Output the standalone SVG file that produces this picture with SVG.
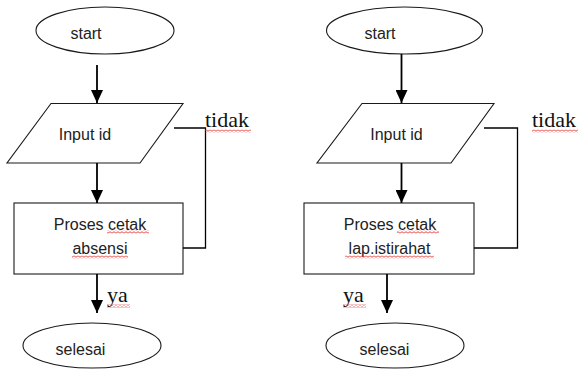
<svg xmlns="http://www.w3.org/2000/svg" width="580" height="369" viewBox="0 0 580 369">
<style>
.shape{fill:#fff;stroke:#1a1a1a;stroke-width:1.1}
.lbl{font-family:"Liberation Sans",Arial,sans-serif;font-size:16px;fill:#222;text-anchor:middle}
.ser{font-family:"Liberation Serif","Times New Roman",serif;font-size:22px;fill:#111}
.ln{fill:none;stroke:#000;stroke-width:1.3}
.ar{fill:none;stroke:#000;stroke-width:1.8;marker-end:url(#ah)}
.sq{fill:url(#sq);stroke:none}
</style>
<defs>
<marker id="ah" viewBox="0 0 13 12" markerWidth="13" markerHeight="12" refX="13" refY="6" orient="auto" markerUnits="userSpaceOnUse">
<path d="M0,0 L13,6 L0,12 Z" fill="#000"/>
</marker>
<pattern id="sq" width="4" height="3" patternUnits="userSpaceOnUse">
<path d="M0,2.3 L2,0.7 L4,2.3" fill="none" stroke="#e03030" stroke-width="0.9"/>
</pattern>
</defs>
<rect width="580" height="369" fill="#fff"/>

<!-- left flowchart -->
<g id="start1"><ellipse class="shape" cx="105" cy="30.5" rx="69" ry="23.5"/><text class="lbl" x="86" y="39">start</text></g>
<g id="input1"><polygon class="shape" points="51,103.5 183,103.5 140,163 7,163"/><text class="lbl" x="85" y="140">Input id</text></g>
<g id="proc1"><rect class="shape" x="14" y="203" width="169" height="71"/><text class="lbl" x="100" y="230">Proses cetak</text><text class="lbl" x="100" y="254">absensi</text></g>
<g id="end1"><ellipse class="shape" cx="92" cy="345.5" rx="69" ry="22.5"/><text class="lbl" x="80.5" y="355">selesai</text></g>

<!-- right flowchart -->
<g id="start2"><ellipse class="shape" cx="404.5" cy="30.5" rx="78" ry="23.5"/><text class="lbl" x="380" y="39">start</text></g>
<g id="input2"><polygon class="shape" points="362,103.5 494,103.5 451,163 317,163"/><text class="lbl" x="396.5" y="140">Input id</text></g>
<g id="proc2"><rect class="shape" x="304" y="203" width="170" height="71"/><text class="lbl" x="390" y="230">Proses cetak</text><text class="lbl" x="389.5" y="254">lap.istirahat</text></g>
<g id="end2"><ellipse class="shape" cx="395" cy="345.5" rx="69" ry="22.5"/><text class="lbl" x="384.5" y="355">selesai</text></g>

<g id="connectors">
<path class="ar" d="M97,65 L97,103"/>
<path class="ar" d="M97,163 L97,203"/>
<path class="ar" d="M97,274 L97,313"/>
<path class="ln" d="M174,128 L205.5,128 L205.5,248 L183,248"/>
<path class="ar" d="M401.5,54 L401.5,103"/>
<path class="ar" d="M401.5,163 L401.5,203"/>
<path class="ar" d="M387,274 L387,313"/>
<path class="ln" d="M484,128 L517.5,128 L517.5,248 L474,248"/>
<text class="ser" x="205" y="127">tidak</text>
<text class="ser" x="532" y="127">tidak</text>
<text class="ser" x="107" y="302">ya</text>
<text class="ser" x="343" y="302">ya</text>
</g>

<g id="spellcheck">
<rect class="sq" x="205" y="129.5" width="46" height="3"/>
<rect class="sq" x="532" y="129.5" width="46" height="3"/>
<rect class="sq" x="107" y="230.5" width="42" height="3"/>
<rect class="sq" x="72" y="255.5" width="56" height="3"/>
<rect class="sq" x="107" y="304.5" width="23" height="3"/>
<rect class="sq" x="397" y="230.5" width="42" height="3"/>
<rect class="sq" x="345" y="255.5" width="89" height="3"/>
<rect class="sq" x="343" y="304.5" width="23" height="3"/>
</g>
</svg>
